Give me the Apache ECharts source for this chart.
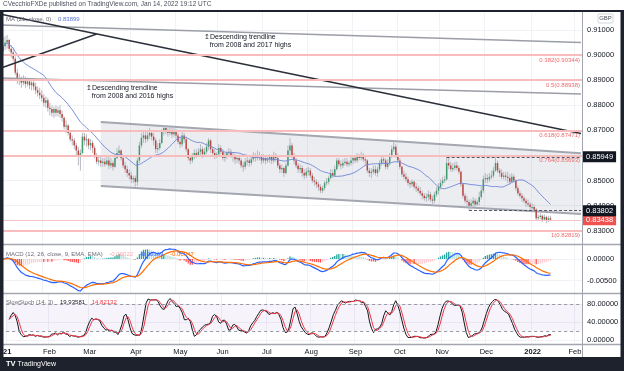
<!DOCTYPE html>
<html><head><meta charset="utf-8">
<script src="https://cdn.jsdelivr.net/npm/echarts@6/dist/echarts.min.js"></script>
<style>html,body{margin:0;padding:0;background:#fff}#c{width:624px;height:371px}</style>
</head><body><div id="c"></div>
<script>
// ---------- data (EUR/GBP daily) ----------
const axisStart = '2021-01-01';
const axisEnd = '2022-02-04';
const firstDate = '2021-01-04';
const firstOpen = 0.9015;
const closes = [
0.9035,0.9050,0.9060,0.9025,0.9010,0.8985,0.8930,0.8900,0.8905,0.8890,0.8905,0.8885,0.8895,0.8880,0.8890,0.8875,0.8860,0.8850,0.8840,0.8830,
0.8810,0.8820,0.8790,0.8785,0.8770,0.8785,0.8770,0.8780,0.8765,0.8750,0.8715,0.8720,0.8690,0.8665,0.8660,0.8640,0.8620,0.8595,0.8610,0.8675,
0.8660,0.8665,0.8640,0.8650,0.8630,0.8600,0.8575,0.8580,0.8570,0.8575,0.8565,0.8580,0.8560,0.8570,0.8555,0.8590,0.8610,0.8620,0.8590,0.8560,0.8545,0.8530,0.8520,
0.8505,0.8510,0.8495,0.8580,0.8640,0.8670,0.8680,0.8665,0.8680,0.8690,0.8675,0.8660,0.8625,0.8630,0.8650,0.8695,0.8710,0.8700,0.8690,0.8700,0.8685,0.8695,
0.8680,0.8655,0.8645,0.8680,0.8665,0.8625,0.8590,0.8580,0.8595,0.8610,0.8600,0.8615,0.8625,0.8605,0.8615,0.8635,0.8660,0.8625,0.8610,0.8600,0.8605,
0.8630,0.8615,0.8590,0.8595,0.8610,0.8615,0.8600,0.8595,0.8585,0.8590,0.8580,0.8560,0.8555,0.8575,0.8580,0.8570,0.8585,0.8600,0.8590,0.8600,0.8595,0.8580,
0.8590,0.8580,0.8585,0.8595,0.8580,0.8600,0.8590,0.8560,0.8545,0.8550,0.8530,0.8560,0.8620,0.8640,0.8600,0.8580,0.8560,0.8545,0.8550,0.8530,0.8520,0.8535,
0.8540,0.8520,0.8500,0.8495,0.8485,0.8475,0.8460,0.8470,0.8490,0.8495,0.8510,0.8530,0.8520,0.8545,0.8580,0.8565,0.8560,0.8570,0.8575,0.8565,0.8570,0.8580,
0.8590,0.8580,0.8595,0.8590,0.8600,0.8585,0.8580,0.8540,0.8530,0.8535,0.8545,0.8530,0.8545,0.8570,0.8585,0.8580,0.8555,0.8570,0.8600,0.8625,0.8635,0.8600,
0.8580,0.8555,0.8525,0.8515,0.8505,0.8490,0.8485,0.8495,0.8475,0.8470,0.8460,0.8450,0.8440,0.8430,0.8435,0.8445,0.8425,0.8420,0.8445,0.8460,0.8475,
0.8490,0.8500,0.8505,0.8570,0.8560,0.8545,0.8550,0.8560,0.8550,0.8535,0.8485,0.8440,0.8420,0.8415,0.8400,0.8410,0.8420,0.8405,0.8415,0.8435,0.8460,0.8505,
0.8510,0.8505,0.8515,0.8520,0.8540,0.8570,0.8540,0.8530,0.8515,0.8520,0.8515,0.8510,0.8495,0.8515,0.8500,0.8470,0.8450,0.8440,0.8430,0.8420,0.8410,0.8405,0.8395,
0.8395,0.8385,0.8350,0.8355,0.8360,0.8345,0.8355,0.8340,0.8350,0.8344];
const highs = [
0.9070,0.9075,0.9080,0.9065,0.9040,0.9030,0.8995,0.8945,0.8925,0.8915,0.8920,0.8915,0.8910,0.8905,0.8900,0.8905,0.8890,0.8875,0.8870,0.8860,
0.8845,0.8835,0.8830,0.8810,0.8800,0.8795,0.8800,0.8795,0.8800,0.8780,0.8755,0.8740,0.8725,0.8700,0.8680,0.8670,0.8650,0.8635,0.8625,0.8690,
0.8690,0.8685,0.8670,0.8665,0.8660,0.8640,0.8610,0.8595,0.8600,0.8590,0.8590,0.8595,0.8595,0.8590,0.8580,0.8600,0.8630,0.8640,0.8625,0.8600,0.8575,0.8560,0.8545,
0.8535,0.8520,0.8520,0.8590,0.8655,0.8690,0.8700,0.8700,0.8695,0.8710,0.8700,0.8690,0.8670,0.8650,0.8665,0.8705,0.8720,0.8720,0.8710,0.8715,0.8710,0.8710,
0.8705,0.8690,0.8670,0.8700,0.8690,0.8675,0.8630,0.8600,0.8610,0.8625,0.8625,0.8630,0.8645,0.8635,0.8630,0.8650,0.8670,0.8665,0.8635,0.8625,0.8615,
0.8645,0.8640,0.8625,0.8610,0.8620,0.8630,0.8625,0.8610,0.8605,0.8600,0.8600,0.8590,0.8575,0.8590,0.8595,0.8590,0.8600,0.8615,0.8610,0.8620,0.8615,0.8605,
0.8605,0.8600,0.8595,0.8605,0.8600,0.8615,0.8610,0.8595,0.8570,0.8565,0.8555,0.8570,0.8640,0.8670,0.8650,0.8610,0.8590,0.8570,0.8565,0.8560,0.8545,0.8550,
0.8555,0.8550,0.8530,0.8515,0.8505,0.8495,0.8485,0.8480,0.8500,0.8510,0.8520,0.8545,0.8545,0.8560,0.8590,0.8590,0.8580,0.8585,0.8590,0.8590,0.8580,0.8595,
0.8600,0.8600,0.8610,0.8605,0.8615,0.8610,0.8600,0.8585,0.8550,0.8550,0.8560,0.8560,0.8555,0.8580,0.8595,0.8600,0.8590,0.8585,0.8610,0.8640,0.8660,0.8645,
0.8610,0.8590,0.8560,0.8540,0.8530,0.8515,0.8500,0.8505,0.8500,0.8490,0.8480,0.8475,0.8460,0.8450,0.8450,0.8460,0.8455,0.8440,0.8455,0.8475,0.8490,
0.8505,0.8515,0.8520,0.8595,0.8590,0.8575,0.8570,0.8575,0.8575,0.8560,0.8540,0.8490,0.8450,0.8440,0.8425,0.8425,0.8435,0.8430,0.8425,0.8455,0.8475,0.8520,
0.8530,0.8525,0.8530,0.8540,0.8555,0.8592,0.8580,0.8550,0.8545,0.8535,0.8535,0.8535,0.8525,0.8530,0.8525,0.8505,0.8480,0.8460,0.8450,0.8440,0.8430,0.8425,0.8415,
0.8410,0.8405,0.8390,0.8365,0.8370,0.8365,0.8365,0.8360,0.8360,0.8360];
const lows = [
0.9005,0.9020,0.9025,0.9015,0.8990,0.8975,0.8920,0.8885,0.8880,0.8870,0.8880,0.8870,0.8875,0.8865,0.8860,0.8860,0.8845,0.8835,0.8825,0.8815,
0.8795,0.8790,0.8775,0.8760,0.8755,0.8750,0.8755,0.8755,0.8750,0.8735,0.8705,0.8690,0.8680,0.8655,0.8640,0.8625,0.8600,0.8560,0.8540,0.8605,
0.8640,0.8635,0.8625,0.8620,0.8610,0.8590,0.8565,0.8560,0.8555,0.8555,0.8555,0.8560,0.8545,0.8550,0.8540,0.8550,0.8585,0.8600,0.8580,0.8550,0.8530,0.8515,0.8505,
0.8490,0.8490,0.8475,0.8480,0.8570,0.8630,0.8650,0.8650,0.8655,0.8665,0.8660,0.8640,0.8610,0.8610,0.8620,0.8645,0.8680,0.8685,0.8675,0.8680,0.8670,0.8675,
0.8665,0.8645,0.8630,0.8635,0.8650,0.8615,0.8580,0.8565,0.8570,0.8585,0.8590,0.8595,0.8600,0.8590,0.8595,0.8605,0.8620,0.8610,0.8595,0.8585,0.8590,
0.8600,0.8605,0.8580,0.8575,0.8585,0.8595,0.8590,0.8575,0.8565,0.8570,0.8565,0.8550,0.8535,0.8545,0.8560,0.8555,0.8560,0.8575,0.8575,0.8580,0.8580,0.8565,
0.8570,0.8565,0.8570,0.8570,0.8565,0.8570,0.8575,0.8550,0.8530,0.8530,0.8515,0.8525,0.8555,0.8600,0.8590,0.8565,0.8550,0.8530,0.8530,0.8515,0.8505,0.8510,
0.8520,0.8510,0.8490,0.8480,0.8470,0.8460,0.8450,0.8450,0.8460,0.8480,0.8485,0.8505,0.8510,0.8515,0.8540,0.8555,0.8545,0.8550,0.8560,0.8555,0.8555,0.8560,
0.8565,0.8570,0.8570,0.8580,0.8580,0.8575,0.8560,0.8530,0.8515,0.8510,0.8525,0.8520,0.8515,0.8535,0.8560,0.8565,0.8545,0.8545,0.8560,0.8590,0.8615,0.8590,
0.8570,0.8545,0.8515,0.8505,0.8495,0.8480,0.8470,0.8475,0.8465,0.8455,0.8450,0.8440,0.8425,0.8420,0.8415,0.8420,0.8415,0.8405,0.8410,0.8435,0.8445,
0.8465,0.8480,0.8490,0.8500,0.8545,0.8535,0.8535,0.8540,0.8540,0.8525,0.8475,0.8430,0.8410,0.8400,0.8380,0.8385,0.8395,0.8395,0.8400,0.8400,0.8425,0.8450,
0.8490,0.8490,0.8495,0.8505,0.8510,0.8535,0.8530,0.8515,0.8505,0.8505,0.8500,0.8490,0.8485,0.8490,0.8490,0.8460,0.8440,0.8430,0.8415,0.8410,0.8395,0.8395,0.8380,
0.8380,0.8375,0.8340,0.8340,0.8345,0.8335,0.8340,0.8330,0.8335,0.8338];

const monthNames = ['Jan','Feb','Mar','Apr','May','Jun','Jul','Aug','Sep','Oct','Nov','Dec'];
const priceTicks = [0.83,0.84,0.85,0.86,0.87,0.88,0.89,0.90,0.91];
const macdTicks = [0,-0.005];
const stochTicks = [0,40,80];
const fibNames = ['0.382','0.5','0.618','0.764','1'];
const fibPrices = [0.90344,0.88938,0.87471,0.85693,0.82819];
const lastPrice = 0.83438;
const resistLevel = ['2021-11-04', 0.85949];
const supportLevel = ['2021-11-19', 0.83802];
const trendGrey2017 = [['2021-01-01',0.91199],['2022-02-04',0.90502]];
const trendGrey2016 = [['2021-01-01',0.89088],['2022-02-04',0.88450]];
const trendBlackDown = [['2021-01-01',0.91629],['2022-02-04',0.86873]];
const trendBlackUp = [['2021-01-01',0.89486],['2021-03-09',0.90841]];
const channelUpper = [['2021-03-11',0.87335],['2022-02-04',0.86088]];
const channelLower = [['2021-03-11',0.84785],['2022-02-04',0.83669]];

// ---------- build ----------
const cats = [];
for (let t = Date.parse(axisStart); t <= Date.parse(axisEnd); t += 86400000) {
  const d = new Date(t); const wd = d.getUTCDay();
  if (wd !== 0 && wd !== 6) cats.push(d.toISOString().slice(0,10));
}
const N = cats.length;
const ix = d => cats.indexOf(d);
const off = ix(firstDate);
const candles = [];
for (let k = 0; k < closes.length; k++) {
  const o = k === 0 ? firstOpen : closes[k-1];
  const c = closes[k];
  candles.push([off+k, o, c, Math.min(lows[k],o,c), Math.max(highs[k],o,c)]);
}
// MA 21 of closes
const ma = new Array(N).fill(null);
for (let k = 0; k < closes.length; k++) {
  const s = closes.slice(Math.max(0,k-20), k+1);
  ma[off+k] = s.reduce((a,b)=>a+b,0)/s.length;
}
// MACD (12, 26, 9)
function ema(a, n){ const kk = 2/(n+1); const out=[]; let p=a[0]; for (let i=0;i<a.length;i++){ p = i===0 ? a[0] : a[i]*kk + p*(1-kk); out.push(p);} return out; }
const e12 = ema(closes,12), e26 = ema(closes,26);
const macdRaw = e12.map((v,i)=>v-e26[i]);
const sigRaw = ema(macdRaw,9);
const macdL = new Array(N).fill(null), sigL = new Array(N).fill(null), hist = new Array(N).fill(null);
let prevH = 0;
for (let k=0;k<closes.length;k++){
  macdL[off+k]=macdRaw[k]; sigL[off+k]=sigRaw[k];
  const h = macdRaw[k]-sigRaw[k];
  let col = h>=0 ? (h>=prevH ? '#26a69a' : '#b2dfdb') : (h<prevH ? '#ff5252' : '#ffcdd2');
  hist[off+k] = {value:h, itemStyle:{color:col}};
  prevH = h;
}
// Slow stochastic (14, 3)
const raw = closes.map((c,k)=>{ const lo=Math.min(...lows.slice(Math.max(0,k-13),k+1)); const hi=Math.max(...highs.slice(Math.max(0,k-13),k+1)); return hi>lo?100*(c-lo)/(hi-lo):50; });
const sma = (a,n)=>a.map((v,k)=>{ const s=a.slice(Math.max(0,k-n+1),k+1); return s.reduce((x,y)=>x+y,0)/s.length; });
const kS = sma(raw,3), dS = sma(kS,3);
const kL = new Array(N).fill(null), dL = new Array(N).fill(null);
for (let k=0;k<closes.length;k++){ kL[off+k]=kS[k]; dL[off+k]=dS[k]; }

const monthStart = new Set();
cats.forEach((d,i)=>{ if (i===0 || d.slice(5,7)!==cats[i-1].slice(5,7)) monthStart.add(i); });
const isMonth = i => monthStart.has(i);

const FONT = 'Liberation Sans, Arial, sans-serif';
const UP = '#3f9a6c', DOWN = '#bd4540', WICK = '#b5b9c3';
const GRIDC = '#f0f2f6';

const chart = echarts.init(document.getElementById('c'), null, {renderer:'canvas'});
const xBase = (g, showLabel) => ({
  type:'category', gridIndex:g, data:cats, boundaryGap:true,
  axisLine:{show:false}, axisTick:{show:false},
  axisLabel:{show:showLabel, interval:isMonth, margin:4, fontSize:7.5, color:'#131722', fontFamily:FONT,
    formatter:(v,i)=>{ const m=+v.slice(5,7); if (i===0) return '{b|21}'; return m===1 ? '{b|'+v.slice(0,4)+'}' : monthNames[m-1]; },
    rich:{b:{fontWeight:'bold', fontSize:7.5, color:'#131722', fontFamily:FONT}}},
  splitLine:{show:true, interval:isMonth, lineStyle:{color:GRIDC, width:1}}
});
const yBase = (g, min, max, ticks, fmt) => ({
  type:'value', gridIndex:g, position:'right', min:min, max:max,
  axisLine:{show:false}, axisTick:{show:false, customValues:ticks},
  axisLabel:{customValues:ticks, formatter:fmt, fontSize:7.5, color:'#131722', margin:5, fontFamily:FONT},
  splitLine:{show:true, lineStyle:{color:GRIDC, width:1}}
});
const line2 = (pts, color, width) => ({
  type:'line', xAxisIndex:0, yAxisIndex:0, data:pts.map(p=>[ix(p[0]),p[1]]),
  showSymbol:false, symbol:'none', silent:true, z:4, lineStyle:{color:color, width:width}
});
const fibData = fibPrices.map((p,i)=>({yAxis:p, lineStyle:{color:'#f8bcbc', width:2, type:'solid'},
  label:{show:true, position:'insideEndBottom', distance:2, formatter:fibNames[i]+'('+p.toFixed(5)+')', color:'#ef6a6a', fontSize:6, fontFamily:FONT}}));
const boxLabel = (txt, bg) => ({show:true, position:'end', distance:2, formatter:txt, color:'#fff', backgroundColor:bg, padding:[2,3,1,3], fontSize:7.5, fontFamily:FONT});

const option = {
  animation:false,
  backgroundColor:'#ffffff',
  grid:[
    {left:0, right:42, top:12, height:232},
    {left:0, right:42, top:245, height:48},
    {left:0, right:42, top:293, height:51}
  ],
  xAxis:[xBase(0,false), xBase(1,false), xBase(2,true)],
  yAxis:[
    yBase(0, 0.82474, 0.91717, priceTicks, v=>v.toFixed(5)),
    yBase(1, -0.007834, 0.003226, macdTicks, v=>v.toFixed(5)),
    yBase(2, -8.1, 104.2, stochTicks, v=>v.toFixed(5))
  ],
  series:[
    { type:'custom', xAxisIndex:0, yAxisIndex:0, z:1, silent:true, data:[[0]],
      renderItem:(params, api)=>{
        const u0=api.coord([ix(channelUpper[0][0]),channelUpper[0][1]]), u1=api.coord([ix(channelUpper[1][0]),channelUpper[1][1]]);
        const l0=api.coord([ix(channelLower[0][0]),channelLower[0][1]]), l1=api.coord([ix(channelLower[1][0]),channelLower[1][1]]);
        return {type:'group', children:[
          {type:'polygon', shape:{points:[u0,u1,l1,l0]}, style:{fill:'rgba(130,136,160,0.15)'}},
          {type:'line', shape:{x1:u0[0],y1:u0[1],x2:u1[0],y2:u1[1]}, style:{stroke:'#a4a7b0', lineWidth:2}},
          {type:'line', shape:{x1:l0[0],y1:l0[1],x2:l1[0],y2:l1[1]}, style:{stroke:'#a4a7b0', lineWidth:2}}
        ]};
      }
    },
    { type:'line', xAxisIndex:0, yAxisIndex:0, data:[], z:2, clip:false, silent:true,
      markLine:{silent:true, symbol:['none','none'], animation:false,
        data: fibData.concat([
          [{coord:[0, lastPrice], lineStyle:{color:'#f6c4c4', width:1, type:'solid'}, label:boxLabel(lastPrice.toFixed(5), '#ef5350')},
           {coord:[N-1, lastPrice]}],
          [{coord:[ix(resistLevel[0]), resistLevel[1]], lineStyle:{color:'#555862', width:1, type:[3,2]}, label:boxLabel(resistLevel[1].toFixed(5), '#131722')},
           {coord:[N-1, resistLevel[1]]}],
          [{coord:[ix(supportLevel[0]), supportLevel[1]], lineStyle:{color:'#555862', width:1, type:[3,2]}, label:boxLabel(supportLevel[1].toFixed(5), '#131722')},
           {coord:[N-1, supportLevel[1]]}]
        ])}
    },
    { type:'custom', xAxisIndex:0, yAxisIndex:0, z:3, silent:true, data:candles,
      dimensions:['x','o','c','l','h'], encode:{x:0, y:[1,2,3,4]},
      renderItem:(params, api)=>{
        const i=api.value(0), o=api.value(1), c=api.value(2), l=api.value(3), h=api.value(4);
        const pH=api.coord([i,h]), pL=api.coord([i,l]), pO=api.coord([i,o]), pC=api.coord([i,c]);
        const bw=api.size([1,0])[0]*0.72;
        const y1=Math.min(pO[1],pC[1]), hh=Math.max(Math.abs(pO[1]-pC[1]),1);
        return {type:'group', children:[
          {type:'line', shape:{x1:pH[0],y1:pH[1],x2:pL[0],y2:pL[1]}, style:{stroke:WICK, lineWidth:1}},
          {type:'rect', shape:{x:pH[0]-bw/2, y:y1, width:bw, height:hh}, style:{fill:c>=o?UP:DOWN}}
        ]};
      }
    },
    { type:'line', xAxisIndex:0, yAxisIndex:0, data:ma, showSymbol:false, symbol:'none', z:4, silent:true,
      lineStyle:{color:'#7a8fd9', width:1} },
    line2(trendGrey2017, '#9b9ea7', 1.5),
    line2(trendGrey2016, '#9b9ea7', 1.5),
    line2(trendBlackDown, '#2a2e39', 1.5),
    line2(trendBlackUp, '#2a2e39', 1.5),
    // MACD
    { type:'bar', xAxisIndex:1, yAxisIndex:1, data:hist, barWidth:'65%', silent:true },
    { type:'line', xAxisIndex:1, yAxisIndex:1, data:macdL, showSymbol:false, symbol:'none', silent:true, lineStyle:{color:'#2962ff', width:1.2} },
    { type:'line', xAxisIndex:1, yAxisIndex:1, data:sigL, showSymbol:false, symbol:'none', silent:true, lineStyle:{color:'#ff6d00', width:1.2} },
    // Stoch
    { type:'line', xAxisIndex:2, yAxisIndex:2, data:kL, showSymbol:false, symbol:'none', silent:true, z:3,
      lineStyle:{color:'#131722', width:1},
      markArea:{silent:true, itemStyle:{color:'rgba(126,87,194,0.07)'}, data:[[{yAxis:20},{yAxis:80}]]},
      markLine:{silent:true, symbol:['none','none'], label:{show:false}, lineStyle:{color:'#9598a1', type:[3,3], width:1},
        data:[{yAxis:80},{yAxis:20}]} },
    { type:'line', xAxisIndex:2, yAxisIndex:2, data:dL, showSymbol:false, symbol:'none', silent:true, z:3,
      lineStyle:{color:'#f23645', width:1} }
  ],
  graphic:[
    {type:'text', left:3, top:1, z:100, style:{text:'CVecchioFXDe published on TradingView.com, Jan 14, 2022 19:12 UTC', fontSize:6.5, fill:'#4a4e5a', fontFamily:FONT}},
    {type:'rect', shape:{x:0,y:10,width:624,height:2}, style:{fill:'#1e222d'}, z:100},
    {type:'rect', shape:{x:0,y:10,width:3.5,height:350}, style:{fill:'#1e222d'}, z:100},
    {type:'rect', shape:{x:620.5,y:10,width:4,height:350}, style:{fill:'#1e222d'}, z:100},
    {type:'rect', shape:{x:0,y:357,width:624,height:14}, style:{fill:'#1e222d'}, z:100},
    {type:'text', left:6, top:360, z:101, style:{text:'{t|TV} TradingView', fill:'#ffffff', fontSize:7, fontFamily:FONT,
      rich:{t:{fontWeight:'bold', fontSize:7.5, fill:'#ffffff', fontFamily:FONT}}}},
    {type:'line', shape:{x1:0,y1:244.5,x2:621,y2:244.5}, style:{stroke:'#a3a6af', lineWidth:1.5}, z:90},
    {type:'line', shape:{x1:0,y1:293.5,x2:621,y2:293.5}, style:{stroke:'#a3a6af', lineWidth:1.5}, z:90},
    {type:'line', shape:{x1:0,y1:344.5,x2:621,y2:344.5}, style:{stroke:'#a3a6af', lineWidth:1.5}, z:90},
    {type:'line', shape:{x1:582.5,y1:12,x2:582.5,y2:357}, style:{stroke:'#a3a6af', lineWidth:1}, z:90},
    {type:'rect', shape:{x:598,y:14,width:15,height:9,r:1}, style:{fill:'#fff', stroke:'#c8cad0', lineWidth:0.8}, z:95},
    {type:'text', x:605.5, y:18.5, z:96, style:{text:'GBP', fontSize:6, fill:'#50535e', align:'center', verticalAlign:'middle', fontFamily:FONT}},
    {type:'text', left:6, top:13, z:96, style:{text:'{g|MA (21, close, 0)}  {b|0.83899}', fontFamily:FONT,
      rich:{g:{fontSize:6, fill:'#6a6d78', fontFamily:FONT}, b:{fontSize:6, fill:'#5b78d6', fontFamily:FONT}}}},
    {type:'text', left:6, top:248, z:96, style:{text:'{g|MACD (12, 26, close, 9, EMA, EMA)}  {p|-0.00022}  {b|-0.00369}  {o|-0.00347}', fontFamily:FONT,
      rich:{g:{fontSize:6, fill:'#6a6d78', fontFamily:FONT}, p:{fontSize:6, fill:'#f7a5ab', fontFamily:FONT}, b:{fontSize:6, fill:'#2962ff', fontFamily:FONT}, o:{fontSize:6, fill:'#ff6d00', fontFamily:FONT}}}},
    {type:'text', left:6, top:296, z:96, style:{text:'{g|SlowStoch (14, 3)}  {k|19.93581}  {r|14.82132}', fontFamily:FONT,
      rich:{g:{fontSize:6, fill:'#6a6d78', fontFamily:FONT}, k:{fontSize:6, fill:'#131722', fontFamily:FONT}, r:{fontSize:6, fill:'#f23645', fontFamily:FONT}}}},
    {type:'text', left:204, top:33, z:96, style:{text:'\u21A5Descending trendline\n   from 2008 and 2017 highs', fontSize:7, lineHeight:8, fill:'#131722', fontFamily:FONT}},
    {type:'text', left:86, top:84, z:96, style:{text:'\u21A5Descending trendline\n   from 2008 and 2016 highs', fontSize:7, lineHeight:8, fill:'#131722', fontFamily:FONT}}
  ]
};
chart.setOption(option);
</script></body></html>
